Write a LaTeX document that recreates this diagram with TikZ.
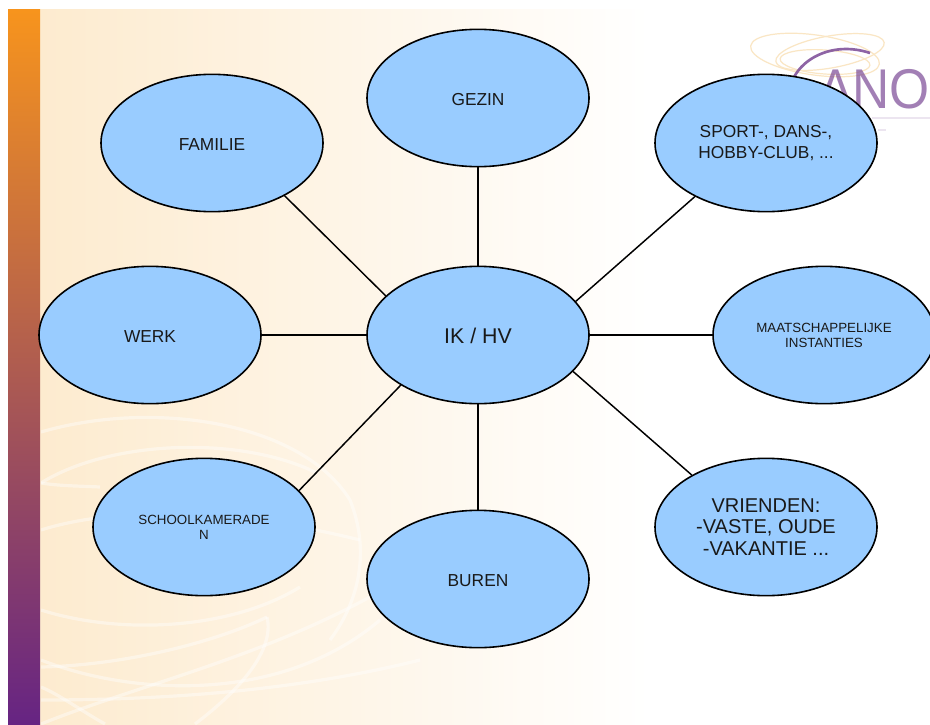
\documentclass[tikz,border=0pt]{standalone}
\usepackage{fontspec}
\usepackage{graphicx}
\setmainfont{Liberation Sans}
\usetikzlibrary{shapes.geometric}

\definecolor{bubblefill}{HTML}{99CCFF}
\definecolor{bartop}{HTML}{F7941D}
\definecolor{barmid}{HTML}{B3766B}
\definecolor{barbot}{HTML}{662483}
\definecolor{creamleft}{HTML}{FDEBCF}
\definecolor{creammid}{HTML}{FDF5E0}
\definecolor{logopurple}{HTML}{7B4A96}
\definecolor{logoorange}{HTML}{FAE6C4}

\tikzset{bubble/.style={draw, ellipse, fill=bubblefill, line width=1.2pt, inner sep=0pt,
                        minimum width=166.5pt, minimum height=103pt, align=center, text=black!90},
         drop/.style={execute at begin node={\rule{0pt}{#1}}},
         txtten/.style={font=\fontsize{10}{11.2}\selectfont, drop=8.7pt},
         txtmid/.style={font=\fontsize{13}{15}\selectfont, drop=11.8pt},
         txtbig/.style={font=\fontsize{15}{16.3}\selectfont, drop=13pt},
         txtcore/.style={font=\fontsize{16}{18}\selectfont, drop=13pt},
         link/.style={line width=1.1pt},
         swirl/.style={draw=white, line width=2.4pt, opacity=0.42},
         ring/.style={draw=logoorange, line width=0.9pt}}

\begin{document}
\begin{tikzpicture}[x=0.75pt, y=-0.75pt]
        \useasboundingbox (0, 0) rectangle (930, 724);

        % slide background
        \fill[white] (0, 0) rectangle (930, 724);
        \fill[left color=creamleft, middle color=creammid, right color=white] (40, 10) rectangle (650, 724);
        \fill[top color=bartop, middle color=barmid, bottom color=barbot] (8, 10) rectangle (40, 724);

        % white curves at the lower left
        \begin{scope}
            \clip (41, 10) rectangle (650, 724);
            \draw[swirl] (41, 432) .. controls (150, 400) and (300, 420) .. (350, 500) .. controls (370, 550) and (360, 600) .. (330, 640);
            \draw[swirl] (41, 483) .. controls (110, 440) and (240, 435) .. (317, 473);
            \draw[swirl] (41, 483) .. controls (60, 486) and (80, 486) .. (100, 487);
            \draw[swirl] (41, 530) .. controls (120, 505) and (240, 510) .. (360, 540);
            \draw[swirl] (41, 610) .. controls (120, 635) and (230, 630) .. (300, 587);
            \draw[swirl] (41, 667) .. controls (130, 665) and (220, 640) .. (267, 617);
            \draw[swirl] (41, 660) .. controls (130, 695) and (280, 705) .. (380, 620);
            \draw[swirl] (41, 700) .. controls (170, 700) and (300, 690) .. (420, 660);
            \draw[swirl] (41, 687) .. controls (60, 695) and (80, 710) .. (105, 724);
            \draw[swirl] (267, 617) .. controls (275, 650) and (240, 690) .. (195, 724);
            \draw[swirl] (41, 724) .. controls (150, 680) and (300, 650) .. (430, 560);
        \end{scope}

        % logo behind the bubbles
        \draw[ring, rotate around={-8:(815, 55)}] (815, 55) ellipse (65 and 20);
        \draw[ring, rotate around={10:(830, 52)}] (830, 52) ellipse (55 and 16);
        \draw[ring, rotate around={-4:(825, 62)}] (825, 62) ellipse (45 and 12);
        \draw[logopurple, line width=2pt, opacity=0.85] (790, 100) .. controls (785, 68) and (825, 38) .. (870, 53);
        \node[anchor=base west, inner sep=0pt, text=logopurple, opacity=0.7, font=\fontsize{42}{42}\selectfont]
            at (818, 108) (logoname) {\scalebox{0.92}[1]{ANO}};
        \draw[logopurple!40, line width=1.5pt, opacity=0.35] (872, 118) -- (930, 118);
        \draw[logopurple!40, line width=1.5pt, opacity=0.35] (878, 130) -- (886, 130);

        \node[bubble, txtcore]           at (478, 335) (ik)       {IK / HV};
        \node[bubble, txtmid]            at (478,  98) (gezin)    {GEZIN};
        \node[bubble, txtmid]            at (212, 143) (familie)  {FAMILIE};
        \node[bubble, txtmid, drop=15pt] at (766, 143) (sport)    {SPORT-, DANS-,\\[0.7pt]HOBBY-CLUB, ...};
        \node[bubble, txtmid]            at (150, 335) (werk)     {WERK};
        \node[bubble, txtten]            at (824, 335) (instanties) {MAATSCHAPPELIJKE\\INSTANTIES};
        \node[bubble, txtten]            at (204, 527) (school)   {SCHOOLKAMERADE\\N};
        \node[bubble, txtmid]            at (478, 579) (buren)    {BUREN};
        \node[bubble, txtbig]            at (766, 527) (vrienden) {VRIENDEN:\\-VASTE, OUDE\\-VAKANTIE ...};

        \draw[link] (ik.north)  -- (gezin.south);
        \draw[link] (ik.157.8)  -- (familie.-36.2);
        \draw[link] (ik.19.1)   -- (sport.217.6);
        \draw[link] (ik.west)   -- (werk.east);
        \draw[link] (ik.east)   -- (instanties.west);
        \draw[link] (ik.213.3)  -- (school.21.8);
        \draw[link] (ik.south)  -- (buren.north);
        \draw[link] (ik.-21.6)  -- (vrienden.145);
\end{tikzpicture}
\end{document}
